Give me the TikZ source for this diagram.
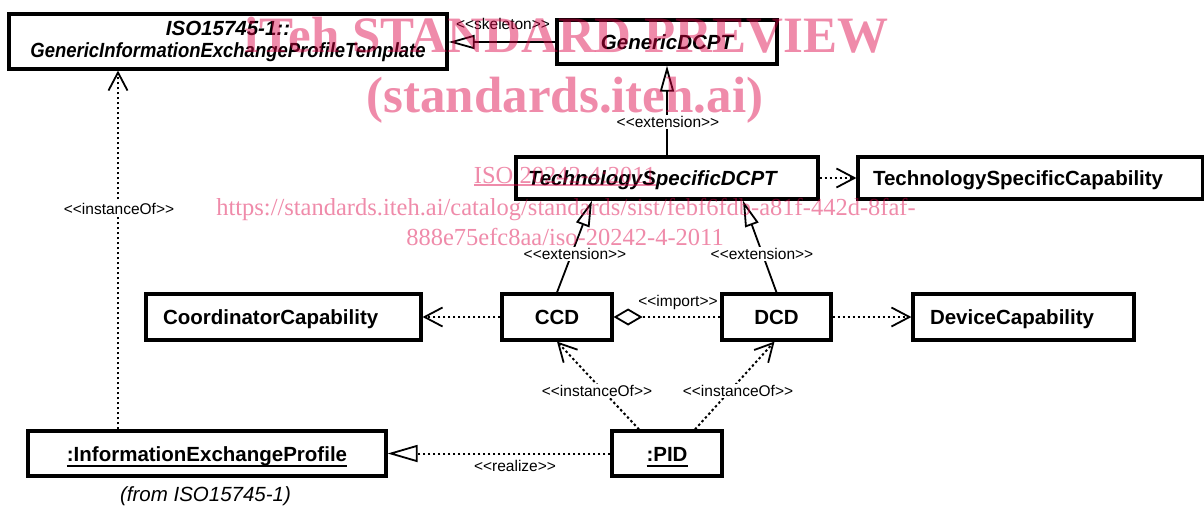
\documentclass[tikz,border=0pt]{standalone}
\usepackage{fontspec}
\setmainfont{Liberation Sans}[Ligatures=TeXOff]
\newfontfamily\wmfont{Liberation Serif}[Ligatures=TeXOff]
\usetikzlibrary{arrows.meta}
\definecolor{wmpink}{RGB}{220,0,68}
\newsavebox\ulsave
\newcommand\ulbox[3]{\sbox\ulsave{#1}\rlap{\rule[#2]{\wd\ulsave}{#3}}\usebox\ulsave}
\begin{document}
\begin{tikzpicture}[x=1pt, y=-1pt,
  box/.style={draw, line width=3.2pt, inner sep=0pt, font=\fontsize{20.5}{22}\selectfont\bfseries},
  boxit/.style={box, font=\fontsize{20.5}{22}\selectfont\bfseries\itshape},
  one/.style={text height=15pt, text depth=0pt},
  lbl/.style={font=\fontsize{15.5}{18}\selectfont, inner sep=1.5pt},
  lblw/.style={lbl, fill=white},
  dotline/.style={line width=2pt, dash pattern=on 2.4pt off 2.6pt},
  dep/.style={dotline, -{Straight Barb[length=18pt,width=19pt,line width=1.8pt]}},
  gen/.style={line width=1.8pt, -{Triangle[open,length=26pt,width=14pt,line width=1.8pt]}},
  real/.style={dotline, -{Triangle[open,length=30pt,width=17pt,line width=1.8pt]}},
  imp/.style={dotline, -{Diamond[open,length=29pt,width=17pt,line width=1.8pt]}},
  wm/.style={text=wmpink, text opacity=0.455, inner sep=0pt, anchor=base}
]
\useasboundingbox (0,0) rectangle (1204,506);

% boxes
\node[boxit, minimum width=438pt, minimum height=55pt, align=center] (iso) at (228,41.5)
  {ISO15745-1::\\\scalebox{0.9}[1]{GenericInformationExchangeProfileTemplate}};
\node[boxit, one, minimum width=220pt, minimum height=44pt] (gdcpt) at (667,42) {GenericDCPT};
\node[boxit, one, minimum width=302pt, minimum height=42pt, text width=278pt, align=left] (tsd) at (667,178) {TechnologySpecificDCPT};
\node[box, one, minimum width=345pt, minimum height=42pt, text width=315pt, align=left] (tsc) at (1030.5,178) {TechnologySpecificCapability};
\node[box, one, minimum width=275pt, minimum height=46pt, text width=241pt, align=left] (coord) at (283.5,317) {CoordinatorCapability};
\node[box, one, minimum width=110pt, minimum height=46pt] (ccd) at (557,317) {CCD};
\node[box, one, minimum width=109pt, minimum height=46pt] (dcd) at (776.5,317) {DCD};
\node[box, one, minimum width=221pt, minimum height=46pt, text width=187pt, align=left] (dev) at (1023.5,317) {DeviceCapability};
\node[box, one, minimum width=358pt, minimum height=45pt] (iep) at (207,453.5) {\ulbox{:InformationExchangeProfile}{-5.5pt}{1.8pt}};
\node[box, one, minimum width=110pt, minimum height=45pt] (pid) at (667,453.5) {\ulbox{:PID}{-5.5pt}{1.8pt}};
\node[font=\fontsize{20.5}{24}\selectfont\itshape, anchor=base, inner sep=0pt] (from) at (205.5,501) {(from ISO15745-1)};

% connectors
\draw[gen] (gdcpt.west) -- (gdcpt.west -| iso.east);
\draw[gen] (tsd.north) -- (gdcpt.south);
\draw[dep] (tsd.east) -- (tsc.west);
\draw[dep] (ccd.west) -- (coord.east);
\draw[dep] (dcd.east) -- (dev.west);
\draw[imp] (dcd.west) -- (ccd.east);
\draw[gen] (ccd.north) -- ([xshift=-75pt]tsd.south);
\draw[gen] (dcd.north) -- ([xshift=76pt]tsd.south);
\draw[dep] ([xshift=-28pt]pid.north) -- (ccd.south);
\draw[dep] ([xshift=28pt]pid.north) -- ([xshift=-2pt]dcd.south);
\draw[real] (pid.west) -- (iep.east);
\draw[dep] ([xshift=-89pt]iep.north) -- ([xshift=-110pt]iso.south);

% labels
\node[lbl] (lskel) at (503,24) {<<skeleton>>};
\node[lblw] (lext0) at (668,122) {<<extension>>};
\node[lblw] (lext1) at (575,254) {<<extension>>};
\node[lblw] (lext2) at (762,254) {<<extension>>};
\node[lbl] (limp) at (678,302) {<<import>>};
\node[lblw] (linst0) at (119,209) {<<instanceOf>>};
\node[lblw] (linst1) at (597,391) {<<instanceOf>>};
\node[lblw] (linst2) at (738,391) {<<instanceOf>>};
\node[lbl] (lreal) at (515,466) {<<realize>>};

% watermark
\node[wm, font=\wmfont\bfseries\fontsize{51}{55}\selectfont] (wm1) at (566.5,52) {iTeh STANDARD PREVIEW};
\node[wm, font=\wmfont\bfseries\fontsize{51}{55}\selectfont] (wm2) at (565,112) {(standards.iteh.ai)};
\node[wm, font=\wmfont\fontsize{24.5}{26}\selectfont] (wm3) at (565,183) {\ulbox{ISO 20242-4:2011}{-2.5pt}{1.2pt}};
\node[wm, font=\wmfont\fontsize{24.5}{26}\selectfont] (wm4) at (566,215) {https://standards.iteh.ai/catalog/standards/sist/febf6fdb-a81f-442d-8faf-};
\node[wm, font=\wmfont\fontsize{24.5}{26}\selectfont] (wm5) at (565,245) {888e75efc8aa/iso-20242-4-2011};
\end{tikzpicture}
\end{document}
